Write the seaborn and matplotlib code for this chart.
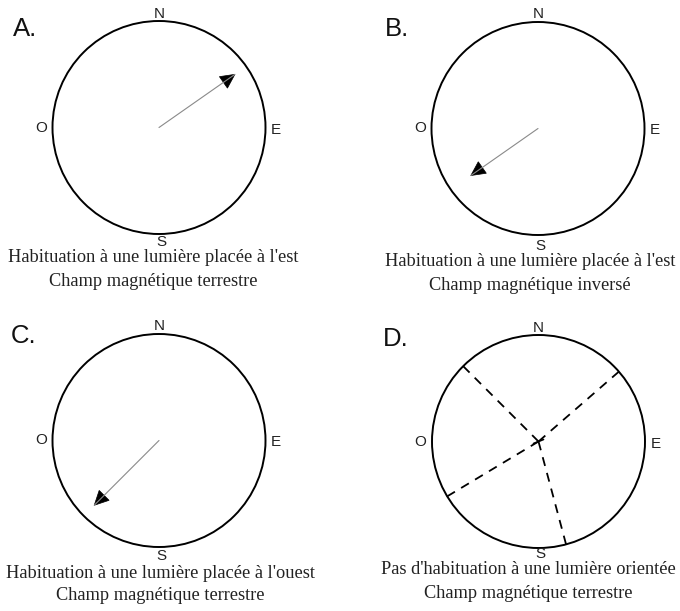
import numpy as np
import matplotlib
matplotlib.use("Agg")
import matplotlib.pyplot as plt
from matplotlib.patches import Circle, Polygon
import seaborn as sns

# ---- data ----
panels = ["A.", "B.", "C.", "D."]
compass = ["N", "E", "S", "O"]
captions_line1 = [
    "Habituation à une lumière placée à l'est",
    "Habituation à une lumière placée à l'est",
    "Habituation à une lumière placée à l'ouest",
    "Pas d'habituation à une lumière orientée",
]
captions_line2 = [
    "Champ magnétique terrestre",
    "Champ magnétique inversé",
    "Champ magnétique terrestre",
    "Champ magnétique terrestre",
]
# mean vector per panel (bearing in degrees from North, length as fraction of radius)
arrow_bearing = [55, 235, 225, None]
arrow_length = [0.87, 0.77, 0.86, None]
# individual directions in panel D (dashed radial lines)
dashed_bearings = [315, 49, 239, 165]

# ---- layout ----
W, H = 680, 611
centers = [(159, 127.5), (538, 128.5), (159, 440.5), (538.5, 441.5)]
R = 106.5
letter_pos = [(13, 29), (385, 29), (11, 336), (383, 339)]
caption_pos = [(153, 258, 282), (530, 262, 285), (160, 573, 596), (528, 570, 594)]
s_offset = [114, 117, 115, 113]

sns.set_theme(style="white")
plt.rcParams["font.family"] = ["Liberation Sans", "DejaVu Sans"]

fig = plt.figure(figsize=(W / 100, H / 100), dpi=100)
ax = fig.add_axes([0, 0, 1, 1])
ax.set_xlim(0, W)
ax.set_ylim(H, 0)
ax.axis("off")


def pt(c, bearing, frac):
    b = np.deg2rad(bearing)
    return c[0] + frac * R * np.sin(b), c[1] - frac * R * np.cos(b)


fs_c = 11
for i, c in enumerate(centers):
    ax.add_patch(Circle(c, R, fill=False, ec="black", lw=1.4))
    # compass labels
    ax.text(c[0], c[1] - 114, compass[0], ha="center", va="center", fontsize=fs_c, color="#222222")
    ax.text(c[0] + 117, c[1] + 2, compass[1], ha="center", va="center", fontsize=fs_c, color="#222222")
    ax.text(c[0] + 2, c[1] + s_offset[i], compass[2], ha="center", va="center", fontsize=fs_c, color="#222222")
    ax.text(c[0] - 118, c[1], compass[3], ha="center", va="center", fontsize=fs_c, color="#222222")
    # panel letter
    ax.text(letter_pos[i][0], letter_pos[i][1], panels[i], ha="left", va="center", fontsize=18.5, color="#111111")
    # captions
    cx, y1, y2 = caption_pos[i]
    ax.text(cx, y1, captions_line1[i], ha="center", va="center", fontsize=13.2,
            family=["Liberation Serif", "DejaVu Serif"], color="#222222")
    ax.text(cx, y2, captions_line2[i], ha="center", va="center", fontsize=13.2,
            family=["Liberation Serif", "DejaVu Serif"], color="#222222")

    if arrow_bearing[i] is not None:
        tip = pt(c, arrow_bearing[i], arrow_length[i])
        sns.lineplot(x=[c[0], tip[0]], y=[c[1], tip[1]], sort=False, estimator=None,
                     color="#8a8a8a", linewidth=0.8, ax=ax)
        b = np.deg2rad(arrow_bearing[i])
        ux, uy = np.sin(b), -np.cos(b)
        px, py = -uy, ux
        hl, hw = 14, 7
        base = (tip[0] - hl * ux, tip[1] - hl * uy)
        tri = [tip, (base[0] + hw * px, base[1] + hw * py), (base[0] - hw * px, base[1] - hw * py)]
        ax.add_patch(Polygon(tri, closed=True, fc="black", ec="black", lw=0.5))
    else:
        for bd in dashed_bearings:
            end = pt(c, bd, 1.0)
            sns.lineplot(x=[c[0], end[0]], y=[c[1], end[1]], sort=False, estimator=None,
                         color="black", linewidth=1.3, linestyle=(0, (5, 4)), ax=ax)
        # small cross at centre
        sns.lineplot(x=[c[0] - 5, c[0] + 5], y=[c[1] + 2, c[1] - 2], sort=False, estimator=None,
                     color="black", linewidth=1.2, ax=ax)

fig.savefig("out.png", dpi=100)
